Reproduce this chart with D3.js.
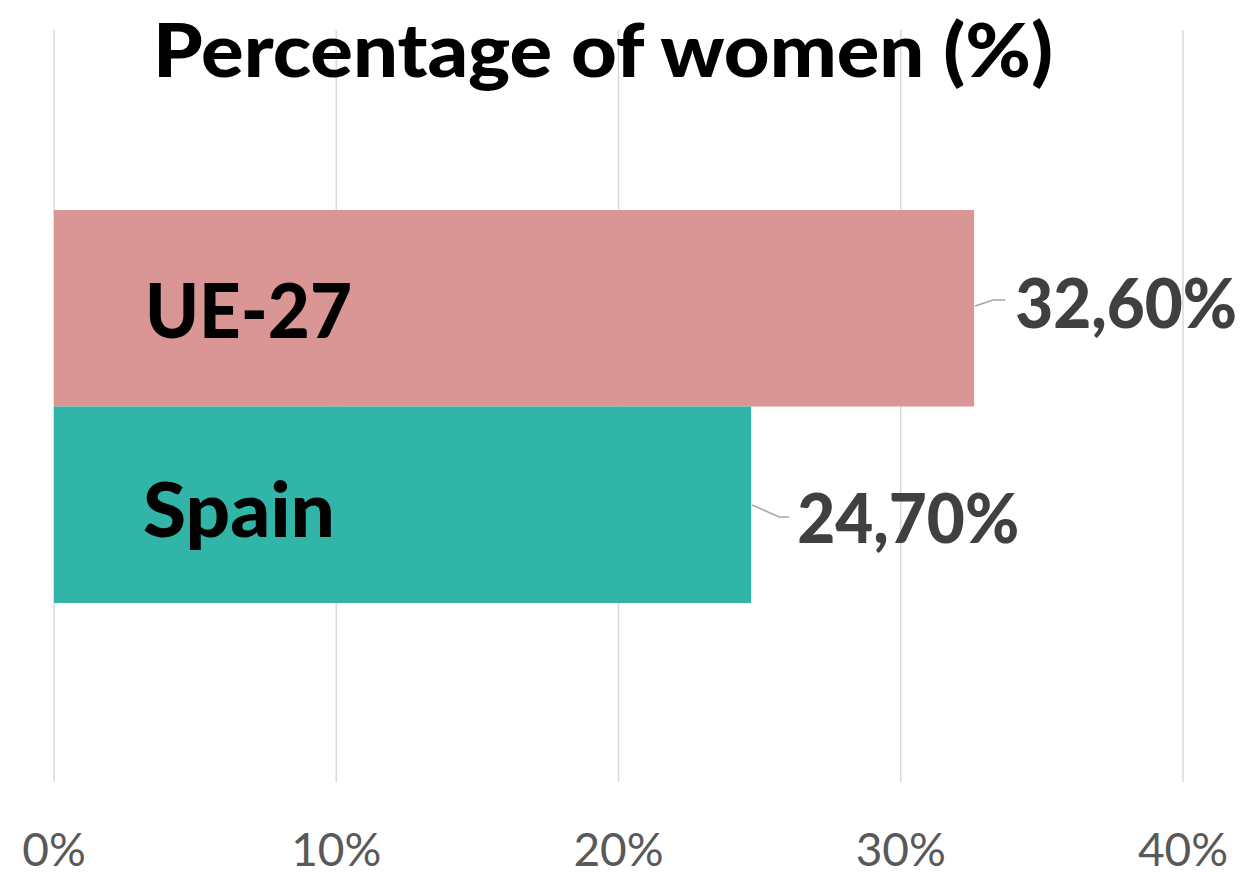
<!DOCTYPE html>
<html>
<head>
<meta charset="utf-8">
<script src="https://cdn.jsdelivr.net/npm/d3@7"></script>
<style>
  body { margin: 0; background: #fff; }
  svg { display: block; }
  text { font-family: Lato, "Open Sans", sans-serif; }
</style>
</head>
<body>
<svg id="chart" width="1246" height="872"></svg>
<script>
const categories = ["UE-27", "Spain"];
const values = [0.326, 0.247];
const valueLabels = ["32,60%", "24,70%"];
const barColors = ["#d99694", "#31b5a8"];
const tickValues = [0, 0.1, 0.2, 0.3, 0.4];
const tickLabels = ["0%", "10%", "20%", "30%", "40%"];
const title = "Percentage of women (%)";

const svg = d3.select("#chart");

const x = d3.scaleLinear().domain([0, 0.4]).range([54, 1183]);
const y = d3.scaleBand().domain(categories).range([210, 603]).padding(0);

// gridlines
svg.append("g")
    .selectAll("line")
    .data(tickValues)
    .enter().append("line")
    .attr("x1", d => x(d)).attr("x2", d => x(d))
    .attr("y1", 30).attr("y2", 782)
    .attr("stroke", "#d9d9d9")
    .attr("stroke-width", 1.5);

// tick labels
svg.append("g")
    .selectAll("text")
    .data(tickValues)
    .enter().append("text")
    .attr("x", d => x(d))
    .attr("y", 866)
    .attr("text-anchor", "middle")
    .attr("font-size", 46)
    .attr("fill", "#595959")
    .text((d, i) => tickLabels[i]);

// title
svg.append("text")
    .attr("x", 153)
    .attr("y", 77)
    .attr("font-size", 75)
    .attr("font-weight", 900)
    .attr("fill", "#000")
    .attr("textLength", 900)
    .attr("lengthAdjust", "spacingAndGlyphs")
    .text(title);

const rows = categories.map((c, i) => ({ cat: c, v: values[i], label: valueLabels[i], color: barColors[i] }));

// bars
svg.append("g")
    .selectAll("rect")
    .data(rows)
    .enter().append("rect")
    .attr("x", x(0))
    .attr("y", d => y(d.cat))
    .attr("width", d => x(d.v) - x(0))
    .attr("height", y.bandwidth())
    .attr("fill", d => d.color);

// category labels inside bars
const catLayout = [{ dx: 145, base: 338, w: 207 }, { dx: 143, base: 537, w: 192 }];
svg.append("g")
    .selectAll("text")
    .data(rows)
    .enter().append("text")
    .attr("x", (d, i) => catLayout[i].dx)
    .attr("y", (d, i) => catLayout[i].base)
    .attr("font-size", 76)
    .attr("font-weight", 900)
    .attr("fill", "#000")
    .attr("textLength", (d, i) => catLayout[i].w)
    .attr("lengthAdjust", "spacingAndGlyphs")
    .text(d => d.cat);

// value labels with leader lines
const lblLayout = [
    { dx: 41, base: 328, lead: [[1, 306], [19, 300], [31, 300]] },
    { dx: 46, base: 543, lead: [[1, 505], [28, 517], [38, 517]] }
];
const lab = svg.append("g");
rows.forEach((d, i) => {
    const bx = x(d.v);
    const L = lblLayout[i];
    lab.append("polyline")
        .attr("points", L.lead.map(p => [bx + p[0], p[1]].join(",")).join(" "))
        .attr("fill", "none")
        .attr("stroke", "#a6a6a6")
        .attr("stroke-width", 1.5);
    lab.append("text")
        .attr("x", bx + L.dx)
        .attr("y", L.base)
        .attr("font-size", 69)
        .attr("font-weight", 900)
        .attr("fill", "#404040")
        .attr("textLength", 222)
        .attr("lengthAdjust", "spacingAndGlyphs")
        .text(d.label);
});
</script>
</body>
</html>
